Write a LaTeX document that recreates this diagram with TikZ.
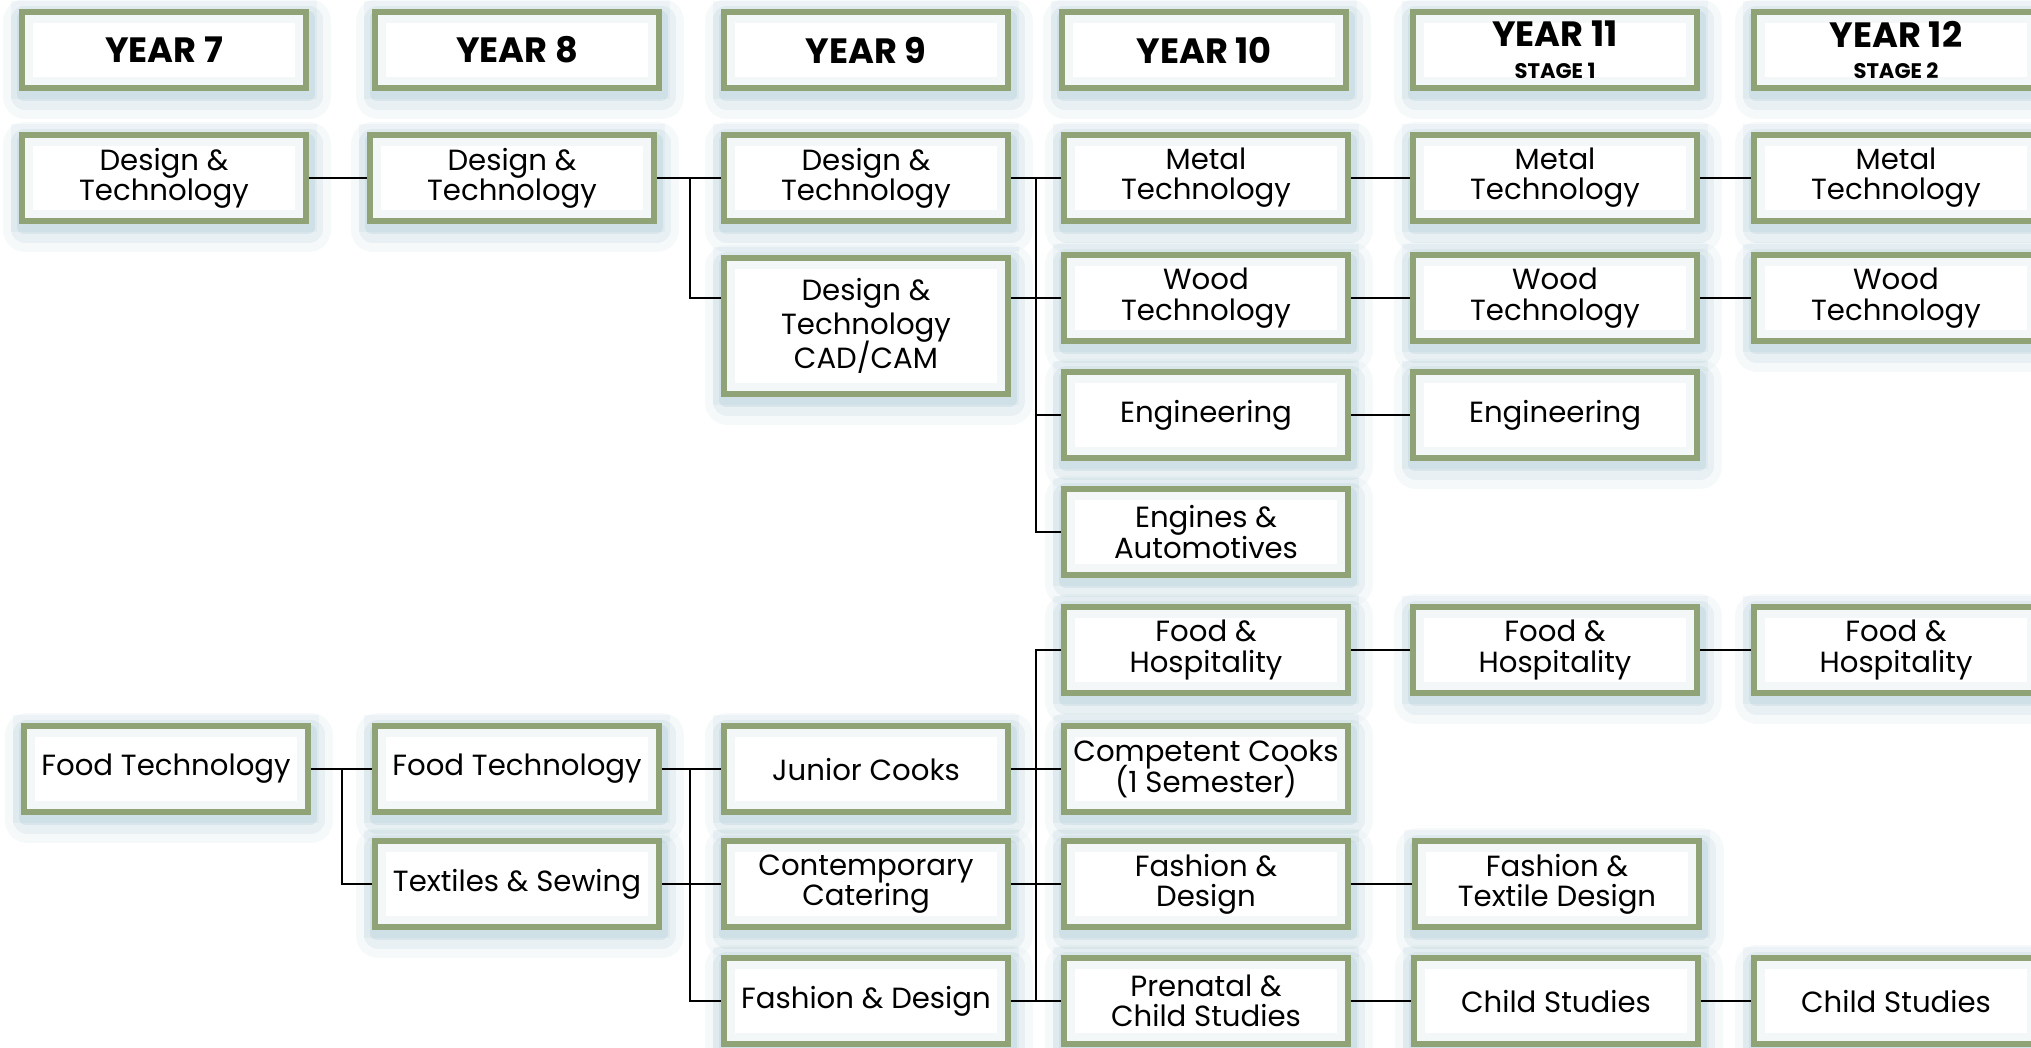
\documentclass[tikz,border=0pt]{standalone}
\usepackage{fontspec}
\setmainfont{Poppins}
\usepackage{tikz}
\usetikzlibrary{positioning,calc}
\definecolor{boxgreen}{RGB}{146,164,114}
\definecolor{glowblue}{RGB}{110,160,178}
\newcommand{\bodyfont}{\fontsize{8.3}{8.6}\selectfont\lineskiplimit=-10pt\relax}
\newcommand{\cadfont}{\fontsize{8.3}{9.6}\selectfont\lineskiplimit=-10pt\relax}
\tikzstyle{subject} = [rectangle, draw=boxgreen, line width=1.7pt, fill=white,
  minimum width=28.4mm, minimum height=8.6mm, align=center, inner sep=0pt,
  font=\bodyfont,
  preaction={draw=glowblue, line width=4.4mm, opacity=0.06, line join=round, transform canvas={xshift=0.3mm,yshift=-0.9mm}},
  preaction={draw=glowblue, line width=2.8mm, opacity=0.1, line join=round, transform canvas={xshift=0.3mm,yshift=-0.8mm}},
  preaction={draw=glowblue, line width=1.4mm, opacity=0.14, line join=round, transform canvas={xshift=0.2mm,yshift=-0.6mm}},
  postaction={draw=glowblue, line width=2.2mm, opacity=0.08}]
\tikzstyle{year} = [subject, minimum height=7.6mm, font=\fontsize{10}{10}\selectfont\bfseries]
\tikzstyle{link} = [line width=0.75pt, black]
\newcommand{\stagetext}[1]{{\fontsize{6}{6}\selectfont #1}}

\begin{document}
\begin{tikzpicture}[x=0.01cm, y=-0.01cm]
\useasboundingbox (0,0) rectangle (2031,1047);
% headings
\node[year] (y7) at (164,50) {YEAR 7};
\node[year] (y8) at (517,50) {YEAR 8};
\node[year] (y9) at (866,50) {YEAR 9};
\node[year] (y10) at (1204,50) {YEAR 10};
\node[year] (y11) at (1555,50) {YEAR 11\\[-1pt]\stagetext{STAGE 1}};
\node[year] (y12) at (1896,50) {YEAR 12\\[-1pt]\stagetext{STAGE 2}};
% design and technology
\node[subject] (dt7) at (164,178) {Design \&\\Technology};
\node[subject] (dt8) at (512,178) {Design \&\\Technology};
\node[subject] (dt9) at (866,178) {Design \&\\Technology};
\node[subject, minimum height=13.5mm, font=\cadfont] (cad9) at (866,326) {Design \&\\Technology\\CAD/CAM};
\node[subject] (met10) at (1206,178) {Metal\\Technology};
\node[subject] (met11) at (1555,178) {Metal\\Technology};
\node[subject] (met12) at (1896,178) {Metal\\Technology};
\node[subject] (wood10) at (1206,298) {Wood\\Technology};
\node[subject] (wood11) at (1555,298) {Wood\\Technology};
\node[subject] (wood12) at (1896,298) {Wood\\Technology};
\node[subject] (eng10) at (1206,415) {Engineering};
\node[subject] (eng11) at (1555,415) {Engineering};
\node[subject] (engn10) at (1206,532) {Engines \&\\Automotives};
% food and textiles
\node[subject] (fh10) at (1206,650) {Food \&\\Hospitality};
\node[subject] (fh11) at (1555,650) {Food \&\\Hospitality};
\node[subject] (fh12) at (1896,650) {Food \&\\Hospitality};
\node[subject] (ft7) at (166,769) {Food Technology};
\node[subject] (ft8) at (517,769) {Food Technology};
\node[subject] (jc9) at (866,769) {Junior Cooks};
\node[subject] (cc10) at (1206,769) {Competent Cooks\\(1 Semester)};
\node[subject] (tx8) at (517,884) {Textiles \& Sewing};
\node[subject] (cat9) at (866,884) {Contemporary\\Catering};
\node[subject] (fd10) at (1206,884) {Fashion \&\\Design};
\node[subject] (fdt11) at (1557,884) {Fashion \&\\Textile Design};
\node[subject] (fd9) at (866,1001) {Fashion \& Design};
\node[subject] (pc10) at (1206,1001) {Prenatal \&\\Child Studies};
\node[subject] (cs11) at (1556,1001) {Child Studies};
\node[subject] (cs12) at (1896,1001) {Child Studies};
% bus lines
\coordinate (b7) at (342,0);
\coordinate (b8) at (690,0);
\coordinate (b9) at (1036,0);
\draw[link] (dt7) -- (dt8);
\draw[link] (dt8) -- (dt9);
\draw[link] (dt8.east -| b8) |- (cad9.west |- wood10);
\draw[link] (cad9.east |- wood10) -- (wood10.west);
\draw[link] (dt9) -- (met10);
\draw[link] (dt9.east -| b9) |- (engn10.west);
\draw[link] (b9 |- eng10) -- (eng10.west);
\draw[link] (met10) -- (met11);
\draw[link] (met11) -- (met12);
\draw[link] (wood10) -- (wood11);
\draw[link] (wood11) -- (wood12);
\draw[link] (eng10) -- (eng11);
\draw[link] (ft7) -- (ft8);
\draw[link] (ft7.east -| b7) |- (tx8.west);
\draw[link] (ft8) -- (jc9);
\draw[link] (tx8) -- (cat9);
\draw[link] (ft8.east -| b8) |- (fd9.west);
\draw[link] (jc9) -- (cc10);
\draw[link] (cat9) -- (fd10);
\draw[link] (fd9) -- (pc10);
\draw[link] (fh10.west) -| (b9 |- pc10);
\draw[link] (fh10) -- (fh11);
\draw[link] (fh11) -- (fh12);
\draw[link] (fd10) -- (fdt11);
\draw[link] (pc10) -- (cs11);
\draw[link] (cs11) -- (cs12);
\end{tikzpicture}
\end{document}
